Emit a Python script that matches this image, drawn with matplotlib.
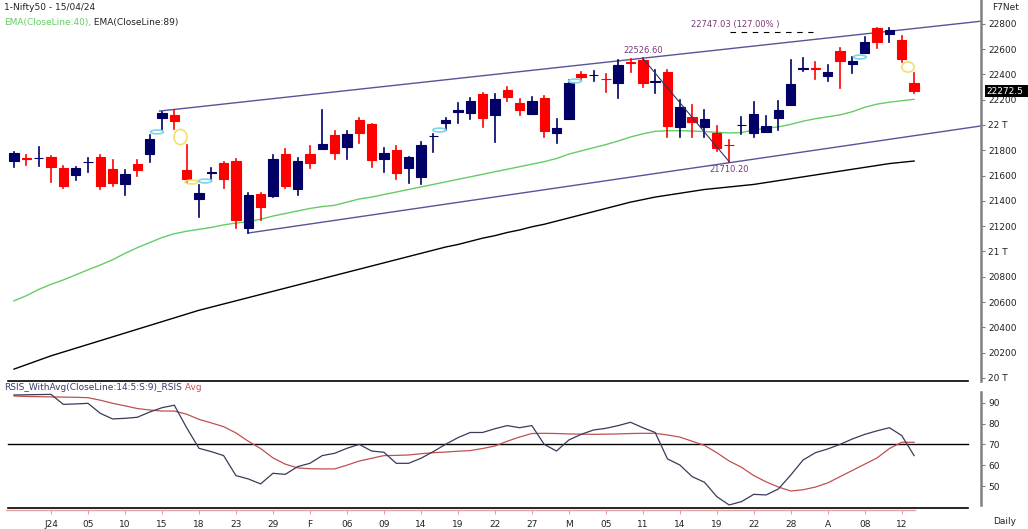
import matplotlib
matplotlib.use("Agg")
import matplotlib.pyplot as plt
from matplotlib.patches import Ellipse, Rectangle

# daily OHLC, 28 Dec 2023 .. 15 Apr 2024 (bar index 0..73)
opens = [21715, 21737, 21735, 21745, 21658, 21605, 21705, 21745, 21650, 21534,
         21689, 21771, 22053, 22079, 21644, 21417, 21618, 21702, 21715, 21188,
         21452, 21439, 21771, 21492, 21771, 21812, 21921, 21824, 22040, 22005,
         21728, 21802, 21658, 21587, 21910, 22018, 22105, 22097, 22245, 22079,
         22277, 22171, 22087, 22211, 21934, 22045, 22403, 22392, 22366, 22330,
         22495, 22514, 22340, 22421, 21982, 22061, 21987, 21939, 21845, 21996,
         21934, 21947, 22053, 22158, 22445, 22451, 22387, 22587, 22482, 22571,
         22769, 22719, 22672, 22334]
highs = [21789, 21763, 21824, 21755, 21677, 21670, 21737, 21763, 21724, 21641,
         21726, 21920, 22105, 22118, 21842, 21526, 21658, 21707, 21731, 21465,
         21459, 21763, 21813, 21741, 21832, 22118, 21955, 21955, 22053, 22010,
         21816, 21831, 21750, 21862, 21929, 22053, 22171, 22215, 22249, 22245,
         22297, 22202, 22218, 22229, 22045, 22353, 22420, 22429, 22403, 22514,
         22519, 22527, 22435, 22435, 22198, 22155, 22119, 21990, 21881, 22066,
         22180, 22073, 22193, 22514, 22529, 22496, 22471, 22606, 22540, 22697,
         22768, 22764, 22703, 22408]
lows = [21670, 21684, 21678, 21552, 21502, 21565, 21631, 21492, 21517, 21447,
        21593, 21705, 21960, 21969, 21552, 21275, 21571, 21500, 21188, 21144,
        21249, 21429, 21501, 21448, 21659, 21810, 21729, 21729, 21855, 21666,
        21631, 21574, 21539, 21530, 21789, 21960, 22013, 22045, 21987, 21868,
        22186, 22075, 22085, 21908, 21855, 22047, 22351, 22350, 22263, 22211,
        22421, 22298, 22251, 21902, 21908, 21905, 21908, 21793, 21710, 21929,
        21906, 21947, 21962, 22158, 22428, 22362, 22345, 22290, 22413, 22568,
        22612, 22659, 22500, 22250]
closes = [21781, 21731, 21742, 21670, 21518, 21658, 21711, 21518, 21544, 21613,
          21644, 21889, 22093, 22034, 21571, 21460, 21625, 21571, 21249, 21447,
          21354, 21728, 21518, 21718, 21697, 21847, 21776, 21929, 21934, 21723,
          21781, 21618, 21745, 21842, 21914, 22040, 22115, 22192, 22053, 22206,
          22219, 22118, 22192, 21953, 21979, 22330, 22377, 22398, 22360, 22474,
          22490, 22330, 22345, 21992, 22140, 22026, 22045, 21816, 21840, 22003,
          22087, 21992, 22119, 22324, 22450, 22446, 22421, 22508, 22508, 22653,
          22653, 22747, 22519, 22271]

ema40 = [20610, 20650, 20700, 20740, 20775, 20815, 20855, 20893, 20935, 20985,
         21030, 21070, 21110, 21140, 21160, 21175, 21190, 21210, 21225, 21235,
         21255, 21280, 21300, 21320, 21340, 21355, 21365, 21390, 21415, 21430,
         21450, 21470, 21490, 21510, 21530, 21550, 21570, 21590, 21610, 21630,
         21650, 21670, 21690, 21710, 21735, 21770, 21795, 21820, 21845, 21873,
         21905, 21930, 21950, 21955, 21955, 21952, 21948, 21942, 21937, 21940,
         21960, 21975, 21985, 22005, 22030, 22050, 22065, 22080, 22105, 22140,
         22165, 22180, 22192, 22203]
ema89 = [20070, 20105, 20140, 20175, 20205, 20235, 20265, 20295, 20325, 20355,
         20385, 20415, 20445, 20475, 20505, 20535, 20560, 20585, 20610, 20635,
         20660, 20685, 20710, 20735, 20760, 20785, 20810, 20835, 20860, 20885,
         20910, 20935, 20960, 20985, 21010, 21035, 21055, 21080, 21105, 21125,
         21150, 21170, 21195, 21215, 21240, 21265, 21290, 21315, 21340, 21365,
         21390, 21410, 21430, 21445, 21460, 21475, 21490, 21500, 21510, 21520,
         21530, 21545, 21560, 21575, 21590, 21605, 21620, 21635, 21650, 21665,
         21680, 21695, 21705, 21715]

rsi = [93.7, 93.8, 93.9, 94.0, 89.2, 89.4, 89.7, 84.9, 82.2, 82.5,
       83.0, 85.5, 87.6, 88.8, 78.0, 68.1, 66.5, 64.6, 55.0, 53.4,
       51.0, 56.1, 55.6, 59.3, 60.9, 64.6, 65.7, 68.1, 70.0, 66.8,
       66.2, 60.9, 60.9, 63.3, 66.5, 70.0, 73.2, 75.7, 75.7, 77.5,
       79.0, 78.0, 79.0, 70.0, 66.8, 72.1, 74.8, 76.9, 77.7, 79.0,
       80.6, 78.0, 75.7, 63.0, 60.1, 54.5, 51.8, 44.9, 40.9, 42.5,
       46.0, 45.7, 48.6, 55.3, 62.5, 66.0, 67.8, 70.0, 72.6, 74.8,
       76.5, 78.0, 74.2, 64.6]
rsi_avg = [93.2, 93.0, 92.9, 92.8, 92.7, 92.6, 92.4, 91.2, 89.7, 88.5,
           87.2, 86.5, 86.0, 86.0, 84.5, 82.0, 80.3, 78.5, 75.5, 71.5,
           68.0, 63.5, 60.5, 58.7, 58.3, 58.2, 58.2, 60.0, 62.0, 63.3,
           64.6, 64.7, 64.9, 65.5, 66.0, 66.3, 66.7, 67.0, 68.0, 69.2,
           71.5, 73.5, 75.2, 75.3, 75.2, 75.0, 74.9, 74.8, 74.9, 75.0,
           75.2, 75.3, 75.3, 74.5, 73.5, 71.5, 69.5, 66.0, 62.0, 59.0,
           55.0, 52.0, 49.5, 47.6, 48.2, 49.5, 51.5, 54.5, 57.5, 60.5,
           63.5, 68.0, 71.0, 71.0]

tick_pos = list(range(3, 73, 3))
tick_labels = ['J24', '05', '10', '15', '18', '23', '29', 'F', '06', '09', '14', '19',
               '22', '27', 'M', '05', '11', '14', '19', '22', '28', 'A', '08', '12']

price_ticks = [20000, 20200, 20400, 20600, 20800, 21000, 21200, 21400, 21600,
               21800, 22000, 22200, 22400, 22600, 22800]
price_tick_labels = ['20 T', '20200', '20400', '20600', '20800', '21 T', '21200', '21400',
                     '21600', '21800', '22 T', '22200', '22400', '22600', '22800']

# channel + swing annotations (bar index, price)
upper_chan = [(11.8, 22110), (78.4, 22820)]
lower_chan = [(19.0, 21146), (78.4, 21992)]
swing = [(51, 22526.60), (58, 21710.20)]
fib_level = 22747.03

# pattern markers (bar, price, colour, w, h)
markers = [(11.6, 21945, '#7fd4ea', 1.05, 30), (13.5, 21905, '#f0e070', 1.05, 120),
           (14.4, 21549, '#f0e070', 1.05, 30), (15.5, 21557, '#7fd4ea', 1.05, 30),
           (34.5, 21960, '#7fd4ea', 1.05, 30), (45.5, 22348, '#7fd4ea', 1.05, 30),
           (68.6, 22537, '#7fd4ea', 1.05, 30), (72.5, 22458, '#f0e070', 1.0, 80)]

W, H = 1028, 529
fig = plt.figure(figsize=(W / 100, H / 100), dpi=100)
fig.patch.set_facecolor('white')
plt.rcParams['font.family'] = ['DejaVu Sans']

xmin = -14 / 12.33
xmax = xmin + 981 / 12.33


def fy(py):
    return 1 - py / H


ax = fig.add_axes([0, fy(381), 981 / W, (381 - 0) / H])
ax2 = fig.add_axes([0, fy(510), 981 / W, (510 - 383) / H])

navy = '#000066'
red = '#ff0000'
for i in range(len(opens)):
    up = closes[i] >= opens[i]
    c = navy if up else red
    ax.plot([i, i], [lows[i], highs[i]], color=c, lw=1.2, zorder=3)
    lo = min(opens[i], closes[i])
    h = abs(closes[i] - opens[i])
    ax.add_patch(Rectangle((i - 0.38, lo), 0.76, max(h, 1), facecolor=c,
                           edgecolor=c, lw=0.8, zorder=4))

x = list(range(len(opens)))
ax.plot(x, ema40, color='#66cc66', lw=1.0, zorder=2)
ax.plot(x, ema89, color='#000000', lw=1.0, zorder=2)

chan_c = '#555599'
ax.plot([p[0] for p in upper_chan], [p[1] for p in upper_chan], color=chan_c, lw=1.0, zorder=2)
ax.plot([p[0] for p in lower_chan], [p[1] for p in lower_chan], color=chan_c, lw=1.0, zorder=2)
ax.plot([p[0] for p in swing], [p[1] for p in swing], color='#333366', lw=0.8, zorder=5)
ax.text(swing[0][0], swing[0][1] + 25, '%.2f' % swing[0][1], color='#7a3a7a',
        fontsize=6, ha='center', va='bottom', zorder=6)
ax.text(swing[1][0], swing[1][1] - 25, '%.2f' % swing[1][1], color='#7a3a7a',
        fontsize=6, ha='center', va='top', zorder=6)
ax.plot([58.1, 64.8], [fib_level - 12, fib_level - 12], color='#000000', lw=0.8,
        dashes=(5, 5), zorder=5)
ax.text(54.9, fib_level + 15, '%.2f (127.00%% )' % fib_level, color='#7a3a7a',
        fontsize=6, ha='left', va='bottom', zorder=6)

for mx, my, mc, mw, mh in markers:
    ax.add_patch(Ellipse((mx, my), mw, mh, facecolor='none', edgecolor=mc, lw=1.2, zorder=6))

ax.set_xlim(xmin, xmax)
ax.set_ylim(19976, 22988)
ax2.set_xlim(xmin, xmax)
ax2.set_ylim(38.48, 99.46)

for a in (ax, ax2):
    for s in ('top', 'left', 'bottom'):
        a.spines[s].set_visible(False)
    a.spines['right'].set_color('#808080')
    a.spines['right'].set_linewidth(1.8)
    a.yaxis.tick_right()
    a.tick_params(axis='y', direction='out', length=3, width=0.8, color='#808080',
                  labelsize=6.5, labelcolor='#222222', pad=2)

ax.set_yticks(price_ticks)
ax.set_yticklabels(price_tick_labels)
ax.set_xticks([])

ax2.spines['right'].set_bounds(41.0, 95.1)
ax2.set_yticks([50, 60, 70, 80, 90])
ax2.spines['bottom'].set_visible(True)
ax2.spines['bottom'].set_color('#e8a0a0')
ax2.spines['bottom'].set_linewidth(1.0)
ax2.spines['bottom'].set_bounds(xmin + 0.5, 73.1)
ax2.set_xticks(tick_pos)
ax2.set_xticklabels(tick_labels)
ax2.tick_params(axis='x', direction='out', length=3, width=0.8, color='#e8a0a0',
                labelsize=6.5, labelcolor='#222222', pad=4)

ax2.plot(x, rsi_avg, color='#c05050', lw=0.9, zorder=3)
ax2.plot(x, rsi, color='#3a3a5a', lw=0.9, zorder=4)
ax2.axhline(70, xmin=8 / 981, xmax=968 / 981, color='black', lw=1.0)
ax2.axhline(39.44, xmin=8 / 981, xmax=968 / 981, color='black', lw=1.2)
fig.add_artist(plt.Line2D([8 / W, 968 / W], [fy(381), fy(381)], color='black', lw=1.2))

# header texts
fs = 6.5
fig.text(4 / W, fy(7), '1-Nifty50 - 15/04/24', fontsize=fs, color='#222222', va='center')
t1 = fig.text(4 / W, fy(22), 'EMA(CloseLine:40),', fontsize=fs, color='#66cc66', va='center')
fig.text(0, 0, ' EMA(CloseLine:89)', fontsize=fs, color='#222222', va='center')
fig.texts[-1].remove()
ax.annotate(' EMA(CloseLine:89)', xy=(1, 0.5), xycoords=t1, fontsize=fs, color='#222222',
            va='center', ha='left')
t2 = fig.text(4 / W, fy(387), 'RSIS_WithAvg(CloseLine:14:5:S:9)_RSIS', fontsize=fs,
              color='#3a3a6a', va='center')
ax2.annotate(' Avg', xy=(1, 0.5), xycoords=t2, fontsize=fs, color='#d05050',
             va='center', ha='left')
fig.text(992 / W, fy(8), 'F7Net', fontsize=fs, color='#222222', va='center')
fig.text(1005 / W, fy(521), 'Daily', fontsize=fs, color='#222222', va='center', ha='center')

# last price box
fig.add_artist(Rectangle((985 / W, fy(97)), 43 / W, 12 / H, transform=fig.transFigure,
                         facecolor='black', edgecolor='none', zorder=10))
fig.text(986 / W, fy(91), '%.1f' % 22272.5, fontsize=fs, color='white', va='center',
         zorder=11)

fig.savefig('out.png', dpi=100, facecolor='white')
